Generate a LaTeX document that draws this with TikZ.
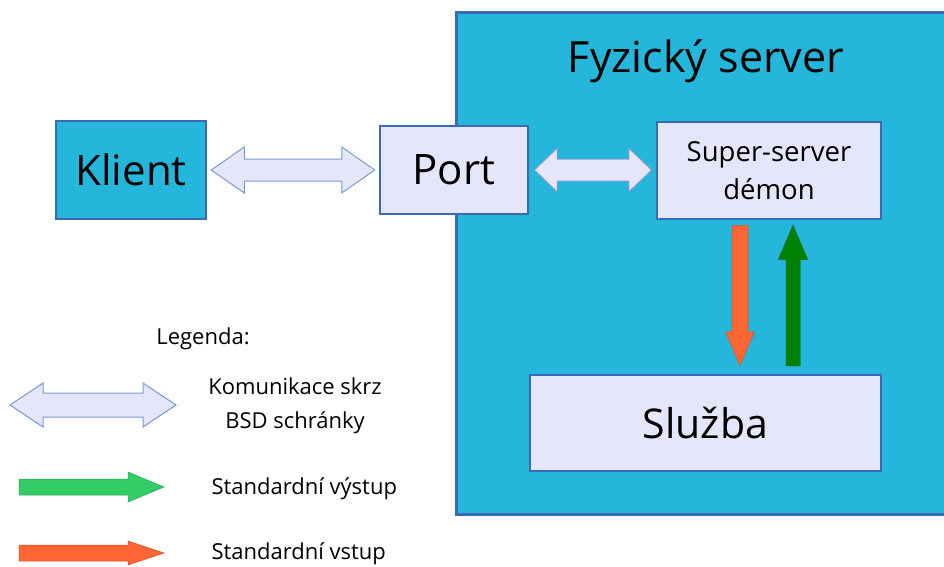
\documentclass[tikz,border=0pt]{standalone}
\usepackage{fontspec}
\setmainfont{Open Sans}
\usepackage{tikz}
\usetikzlibrary{calc}
\definecolor{srvcyan}{RGB}{37,183,219}
\definecolor{boxblue}{RGB}{58,106,182}
\definecolor{lavender}{RGB}{230,230,250}
\definecolor{arrline}{RGB}{122,155,214}
\definecolor{inorange}{RGB}{255,102,51}
\definecolor{outgreen}{RGB}{0,128,0}
\definecolor{leggreen}{RGB}{51,204,102}

\begin{document}
\begin{tikzpicture}[x=1pt,y=-1pt]
    \newcommand{\gap}[0]{4pt}
    \newcommand{\dblarrow}[6]{%
      \draw[#1] let \p1=#2, \p2=#3 in
        (\x1,\y1) -- (\x1+#6,\y1+#4) -- (\x1+#6,\y1+#5) -- (\x2-#6,\y1+#5)
        -- (\x2-#6,\y1+#4) -- (\x2,\y1) -- (\x2-#6,\y1-#4) -- (\x2-#6,\y1-#5)
        -- (\x1+#6,\y1-#5) -- (\x1+#6,\y1-#4) -- cycle;}
    \newcommand{\varrow}[6]{%
      \draw[#1] let \p1=#2, \p2=#3, \n1={ifthenelse(\y2>\y1,1,-1)} in
        (\x1-#5,\y1) -- (\x1-#5,\y2-\n1*#6) -- (\x1-#4,\y2-\n1*#6) -- (\x1,\y2)
        -- (\x1+#4,\y2-\n1*#6) -- (\x1+#5,\y2-\n1*#6) -- (\x1+#5,\y1) -- cycle;}
    \newcommand{\harrow}[6]{%
      \draw[#1] let \p1=#2, \p2=#3 in
        (\x1,\y1-#5) -- (\x2-#6,\y1-#5) -- (\x2-#6,\y1-#4) -- (\x2,\y1)
        -- (\x2-#6,\y1+#4) -- (\x2-#6,\y1+#5) -- (\x1,\y1+#5) -- cycle;}
    \tikzstyle{box}=[
      draw=boxblue,
      line width=2.5pt,
      inner sep=0pt,
      align=center,
    ]
    \tikzstyle{big}=[
      font=\fontsize{42}{50}\selectfont,
    ]
    \tikzstyle{legtext}=[
      font=\fontsize{22}{34}\selectfont,
      align=center,
    ]
    \tikzstyle{sock}=[fill=lavender,draw=arrline,line width=1pt]
    \tikzstyle{stdin}=[fill=inorange,draw=inorange!80!black,line width=0.5pt]
    \tikzstyle{stdout}=[fill=outgreen,draw=outgreen!80!black,line width=0.5pt]

    \useasboundingbox (0,0) rectangle (944,566);

    \node[box,fill=srvcyan,minimum width=492pt,minimum height=502pt,anchor=north west] (server) at (455,11) {};
    \node[font=\fontsize{43}{50}\selectfont] (title) at (706,61) {Fyzický server};

    \node[box,big,fill=srvcyan,minimum width=150pt,minimum height=98pt] (klient) at (131,170) {Klient};
    \node[box,big,fill=lavender,minimum width=148pt,minimum height=88pt] (port) at (454,170) {Port};
    \node[box,fill=lavender,minimum width=224pt,minimum height=97pt,font=\fontsize{27.5}{38}\selectfont] (super) at (769,170.5) {Super-server\\démon};
    \node[box,fill=lavender,minimum width=351pt,minimum height=96pt,font=\fontsize{41}{48}\selectfont] (sluzba) at (705.5,423) {Služba};

    \dblarrow{sock}{([xshift=\gap]klient.east)}{([xshift=-\gap]port.west)}{23pt}{11pt}{33pt}
    \dblarrow{sock}{([xshift=5pt]port.east)}{([xshift=-\gap]super.west)}{22pt}{11pt}{23pt}
    \varrow{stdin}{([xshift=-29pt,yshift=-5pt]super.south)}{([yshift=8pt]sluzba.north)}{14.5pt}{8pt}{34pt}
    \varrow{stdout}{([xshift=24pt,yshift=8pt]super.south |- sluzba.north)}{([yshift=-5pt]super.south)}{14.5pt}{7pt}{34pt}

    \node[legtext] (legenda) at (203,339) {Legenda:};
    \coordinate (sockA) at (10,405);
    \coordinate (sockB) at (176,405);
    \coordinate (outA) at (19,487);
    \coordinate (outB) at (164,487);
    \coordinate (inA) at (19,553);
    \coordinate (inB) at (164,553);
    \dblarrow{sock}{(sockA)}{(sockB)}{22pt}{12pt}{33pt}
    \harrow{stdout,fill=leggreen,draw=leggreen!80!black}{(outA)}{(outB)}{15pt}{8pt}{36pt}
    \harrow{stdin}{(inA)}{(inB)}{12pt}{8pt}{36pt}
    \node[legtext] (sock label) at (295,406) {Komunikace skrz\\BSD schránky};
    \node[legtext,anchor=west] (out label) at (208,489) {Standardní výstup};
    \node[legtext,anchor=west] (in label) at (208,554) {Standardní vstup};
  \end{tikzpicture}
\end{document}
